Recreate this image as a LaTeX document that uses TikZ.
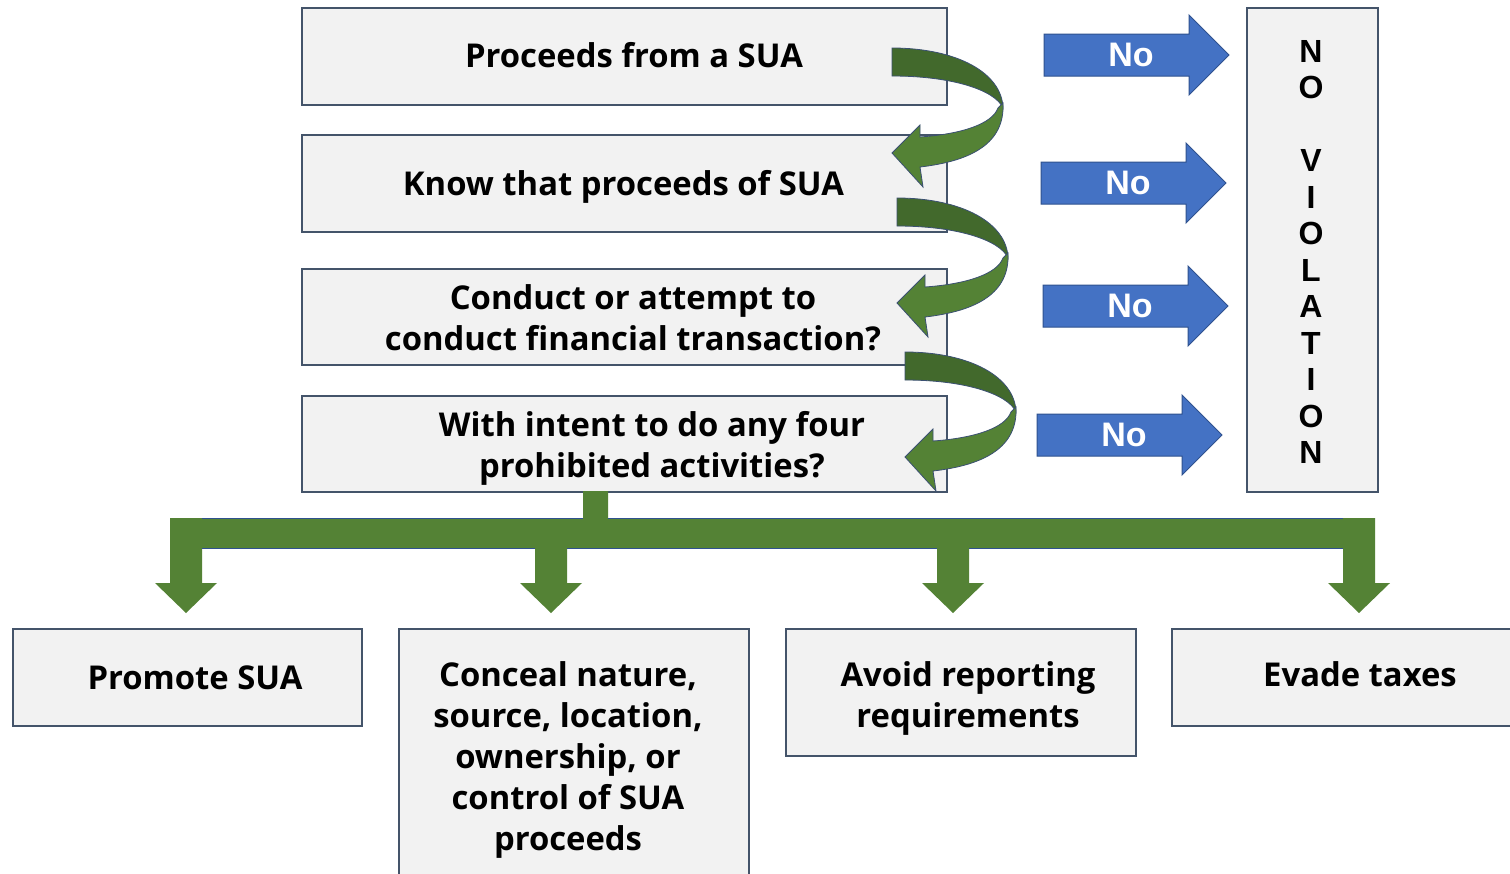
\documentclass[tikz,border=0pt]{standalone}
\usepackage{fontspec}
\setmainfont{Open Sans}
\newfontfamily\arialfont{Liberation Sans}
\definecolor{boxfill}{HTML}{F2F2F2}
\definecolor{boxline}{HTML}{44546A}
\definecolor{noblue}{HTML}{4472C4}
\definecolor{nobluedark}{HTML}{2F528F}
\definecolor{grn}{HTML}{548235}
\definecolor{grndark}{HTML}{42692C}
\definecolor{edge}{HTML}{3B5072}
\tikzset{
  box/.style={draw=boxline, line width=2pt, fill=boxfill, inner sep=0, anchor=north west},
  txt/.style={font=\bfseries\fontsize{32.8}{41}\selectfont, align=center, inner sep=0},
  notxt/.style={font=\arialfont\bfseries\fontsize{34}{34}\selectfont, text=white, inner sep=0},
  violtxt/.style={font=\arialfont\bfseries\fontsize{32}{36.5}\selectfont, align=center, inner sep=0},
  noarr/.pic={
    \filldraw[fill=noblue, draw=nobluedark, line width=1pt]
      (0,-21) -- (145,-21) -- (145,-40) -- (185,0) -- (145,40) -- (145,21) -- (0,21) -- cycle;
    \node[notxt] (-lbl) at (87,0) {No};
  },
  curl/.pic={
    \filldraw[fill=grndark, draw=edge, line width=0.8pt]
      (0,0) .. controls (65,0) and (110,25) .. (111,60)
      .. controls (103,42) and (60,28) .. (0,28) -- cycle;
    \filldraw[fill=grn, draw=edge, line width=0.8pt]
      (111,55) .. controls (113,95) and (80,113) .. (28,119)
      -- (31,139) -- (0,105) -- (28,77) -- (28,89)
      .. controls (70,86) and (100,76) .. (106,60) -- cycle;
  }
}
\begin{document}
\begin{tikzpicture}[x=1pt,y=-1pt]
\useasboundingbox (0,0) rectangle (1510,873);
\fill[white] (0,0) rectangle (1510,873);

% top boxes
\node[box, minimum width=645, minimum height=97] (b1) at (301,7) {};
\node[box, minimum width=645, minimum height=97] (b2) at (301,134) {};
\node[box, minimum width=645, minimum height=96] (b3) at (301,268) {};
\node[box, minimum width=645, minimum height=96] (b4) at (301,395) {};
\node[box, minimum width=131, minimum height=484] (nv) at (1246,7) {};

\node[txt] (t1) at (634,55) {Proceeds from a SUA};
\node[txt] (t2) at (623.5,187) {Know that proceeds of SUA};
\node[txt] (t3) at (633,318) {Conduct or attempt to\\conduct financial transaction?};
\node[txt] (t4) at (652,448) {With intent to do any four\\prohibited activities?};
\node[violtxt] (tv) at (1311,252) {N\\O\\[36.5pt]V\\I\\O\\L\\A\\T\\I\\O\\N};

% curved arrows
\pic (c1) at (892,48) {curl};
\pic (c2) at (897,198) {curl};
\pic (c3) at (905,352) {curl};

% No arrows
\pic (n1) at (1044,55) {noarr};
\pic (n2) at (1041,183) {noarr};
\pic (n3) at (1043,306) {noarr};
\pic (n4) at (1037,435) {noarr};

% bottom boxes
\node[box, minimum width=349, minimum height=97] (d1) at (12,628) {};
\node[box, minimum width=350, minimum height=260] (d2) at (398,628) {};
\node[box, minimum width=350, minimum height=127] (d3) at (785,628) {};
\node[box, minimum width=345, minimum height=97] (d4) at (1171,628) {};

\node[txt] (u1) at (195,678) {Promote SUA};
\node[txt] (u2) at (568,760) {Conceal nature,\\source, location,\\ownership, or\\control of SUA\\proceeds};
\node[txt] (u3) at (968,698.5) {Avoid reporting\\requirements};
\node[txt] (u4) at (1360,674) {Evade taxes};

% green distribution tree
\coordinate (s0) at (595.5,491);
\fill[grn] (583,491) -- (608,491) -- (608,518) -- (1375,518) -- (1375,583) -- (1390,583)
  -- (1359,613) -- (1328,583) -- (1343,583) -- (1343,548) -- (969,548) -- (969,583)
  -- (984,583) -- (953,613) -- (922,583) -- (937,583) -- (937,548) -- (567,548)
  -- (567,583) -- (582,583) -- (551,613) -- (520,583) -- (535,583) -- (535,548)
  -- (202,548) -- (202,583) -- (217,583) -- (186,613) -- (155,583) -- (170,583)
  -- (170,518) -- (583,518) -- cycle;
\draw[nobluedark, line width=1pt] (202,518) -- (583,518) (608,518) -- (1343,518);
\draw[nobluedark, line width=1pt] (202,548) -- (535,548) (567,548) -- (937,548) (969,548) -- (1343,548);
\end{tikzpicture}
\end{document}
